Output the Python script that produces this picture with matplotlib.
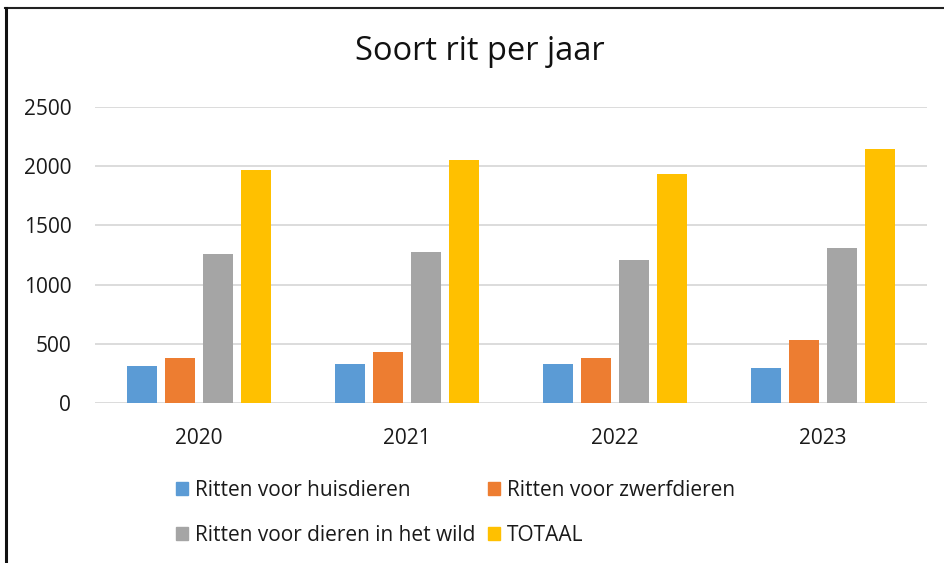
import numpy as np
import matplotlib
matplotlib.use('Agg')
import matplotlib.pyplot as plt
from matplotlib.patches import Patch
from matplotlib.lines import Line2D

plt.rcParams['font.family'] = ['Open Sans', 'DejaVu Sans']

years = ['2020', '2021', '2022', '2023']
huisdieren = [312, 329, 329, 295]
zwerfdieren = [379, 430, 379, 531]
wild = [1256, 1273, 1205, 1306]
totaal = [1964, 2048, 1930, 2149]

series = [
    ('Ritten voor huisdieren', huisdieren, '#5B9BD5'),
    ('Ritten voor zwerfdieren', zwerfdieren, '#ED7D31'),
    ('Ritten voor dieren in het wild', wild, '#A5A5A5'),
    ('TOTAAL', totaal, '#FFC000'),
]

fig = plt.figure(figsize=(9.44, 5.63), dpi=100)
ax = fig.add_axes([0.1006, 0.2842, 0.8814, 0.5258])

x = np.arange(len(years))
width = 30 / 208
step = 38 / 208
for i, (name, vals, color) in enumerate(series):
    ax.bar(x + (i - 1.5) * step, vals, width=width, color=color, label=name, zorder=3)

ax.set_xlim(-0.5, len(years) - 0.5)
ax.set_ylim(0, 2500)
ax.set_yticks(range(0, 2501, 500))
ax.set_xticks(x)
ax.set_xticklabels(years)
ax.grid(axis='y', color='#D9D9D9', linewidth=1.3, zorder=0)
for s in ax.spines.values():
    s.set_visible(False)
ax.tick_params(axis='both', length=0, labelsize=15, colors='#1a1a1a')
ax.tick_params(axis='y', pad=17)
ax.tick_params(axis='x', pad=18)

fig.text(0.508, 0.908, 'Soort rit per jaar', ha='center', va='center', fontsize=23.5, color='#111111')

# legend, row order as in the reference
order = [0, 2, 1, 3]
handles = [Patch(color=series[i][2]) for i in order]
labels = [series[i][0] for i in order]
fig.legend(handles, labels, ncol=2, loc='center left', bbox_to_anchor=(0.186, 0.0895),
           frameon=False, fontsize=15, handlelength=0.58, handleheight=0.58,
           handletextpad=0.35, columnspacing=0.6, labelspacing=1.15,
           borderaxespad=0, borderpad=0, labelcolor='#1a1a1a')

# chart border (top and left)
fig.add_artist(Line2D([0.0055, 1.0], [0.9858, 0.9858], color='#222222', linewidth=1.5))
fig.add_artist(Line2D([0.0065, 0.0065], [0.0, 0.9858], color='#111111', linewidth=2.2))

fig.savefig('out.png', dpi=100, facecolor='white')
